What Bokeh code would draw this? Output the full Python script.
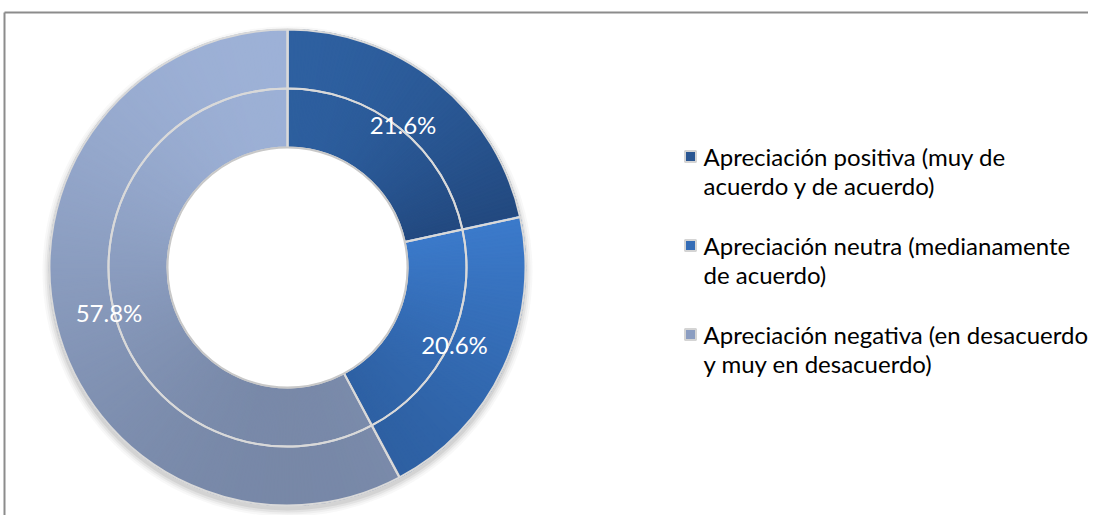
import numpy as np
from bokeh.plotting import figure
from bokeh.models import Range1d, ColumnDataSource
from bokeh.core.properties import value
from bokeh.embed import file_html
from bokeh.resources import INLINE

# ---------------- data ----------------
categories = [
    "Apreciación positiva (muy de\nacuerdo y de acuerdo)",
    "Apreciación neutra (medianamente\nde acuerdo)",
    "Apreciación negativa (en desacuerdo\ny muy en desacuerdo)",
]
shares = [21.6, 20.6, 57.8]
labels = ["21.6%", "20.6%", "57.8%"]

# ---------------- style ----------------
colors_top = ["#3064a6", "#3c7bcc", "#a0b4da"]
colors_bottom = ["#22487e", "#2c5d9e", "#7585a4"]
colors_mid = ["#2a5692", "#346cb6", "#8b9dc1"]

W, H = 1088, 515
cx, cy = 287, 248
r_hole, r_mid, r_out = 120, 179, 238


def hex2rgb(h):
    return np.array([int(h[i:i + 2], 16) for i in (1, 3, 5)], dtype=float)


def rgb2hex(c):
    return "#%02x%02x%02x" % tuple(int(round(v)) for v in c)


p = figure(width=W, height=H, output_backend="svg", toolbar_location=None,
           x_range=Range1d(0, W), y_range=Range1d(0, H), min_border=0)
p.axis.visible = False
p.grid.visible = False
p.outline_line_color = None
p.background_fill_color = "white"
p.border_fill_color = "white"

# frame (top and left visible)
p.line(x=[4, 4], y=[-10, 503], line_color="#8c8c8c", line_width=2)
p.line(x=[4, W + 10], y=[503, 503], line_color="#8c8c8c", line_width=2)

total = sum(shares)
fr = np.array(shares) / total
cum = np.concatenate([[0], np.cumsum(fr)])
start = np.pi / 2 - cum[:-1] * 2 * np.pi
end = np.pi / 2 - cum[1:] * 2 * np.pi
mid = (start + end) / 2

# soft shadow
for k, a in [(7, 0.05), (5, 0.07), (3, 0.10), (1, 0.14)]:
    p.circle(x=[cx], y=[cy - 4], radius=r_out + k, fill_color="#7a7a7a",
             fill_alpha=a, line_color=None)

# rings (outer and inner carry the same values), vertical gradient per piece
step = np.deg2rad(1.0)
sub = dict(x0=[], x1=[], r0=[], r1=[], color=[])
for r0, r1 in [(r_mid, r_out), (r_hole, r_mid)]:
    for i in range(len(shares)):
        angs = np.linspace(end[i], start[i], 400)
        ys = np.concatenate([cy + r1 * np.sin(angs), cy + r0 * np.sin(angs)])
        ytop, ybot = ys.max(), ys.min()
        ct, cb = hex2rgb(colors_top[i]), hex2rgb(colors_bottom[i])
        n = max(2, int(np.ceil((start[i] - end[i]) / step)))
        edges = np.linspace(start[i], end[i], n + 1)
        for a0, a1 in zip(edges[:-1], edges[1:]):
            am = (a0 + a1) / 2
            yc = cy + (r0 + r1) / 2 * np.sin(am)
            t = np.clip((ytop - yc) / (ytop - ybot), 0, 1)
            sub["x0"].append(a0 + 0.004)
            sub["x1"].append(a1 - 0.004)
            sub["r0"].append(r0)
            sub["r1"].append(r1)
            sub["color"].append(rgb2hex(ct + (cb - ct) * t))
ssrc = ColumnDataSource(sub)
p.annular_wedge(x=cx, y=cy, inner_radius="r0", outer_radius="r1",
                start_angle="x0", end_angle="x1", direction="clock",
                fill_color="color", line_color="color", line_width=1.2,
                source=ssrc)

# separators / outlines
src = ColumnDataSource(dict(start=start, end=end))
for r0, r1 in [(r_mid, r_out), (r_hole, r_mid)]:
    p.annular_wedge(x=cx, y=cy, inner_radius=r0, outer_radius=r1,
                    start_angle="start", end_angle="end", direction="clock",
                    fill_color=None, line_color="#d9d9d9", line_width=2,
                    source=src)

# hole edge
p.circle(x=[cx], y=[cy], radius=r_hole, fill_color="white",
         line_color="#c8c8c8", line_width=2)

# data labels
lr = 184
lsrc = ColumnDataSource(dict(x=cx + lr * np.cos(mid), y=cy + lr * np.sin(mid),
                             t=labels))
p.text(x="x", y="y", text="t", source=lsrc, text_color="white",
       text_font=value("Lato"), text_font_size="24px",
       text_align="center", text_baseline="middle")

# legend
lx_marker, lx_text = 690, 703
ly0, ldy = 359, 89
ly = [ly0 - ldy * i for i in range(len(categories))]
p.rect(x=[lx_marker] * len(categories), y=ly, width=11, height=11,
       fill_color=colors_mid, line_color="#d4d4d4", line_width=2)
p.text(x=[lx_text] * len(categories), y=[v + 15 for v in ly], text=categories,
       text_color="black", text_font=value("Lato"), text_font_size="24px",
       text_align="left", text_baseline="top", text_line_height=1.02)

open("out.html", "w").write(file_html(p, INLINE))
